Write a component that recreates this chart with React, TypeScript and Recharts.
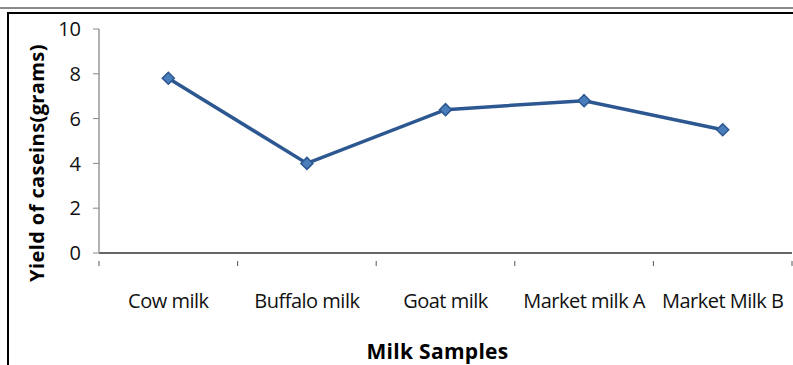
import { Label, Line, LineChart, XAxis, YAxis } from "recharts";

const samples = ["Cow milk", "Buffalo milk", "Goat milk", "Market milk A", "Market Milk B"];
const caseinYield = [7.8, 4.0, 6.4, 6.8, 5.5];
const yTicks = [0, 2, 4, 6, 8, 10];

const data = samples.map((name, i) => ({ name, value: caseinYield[i] }));

const FONT = "'Open Sans', Lato, sans-serif";
const CHART_W = 800;
const MARGIN_R = 8;
const AXIS_W = 99;
const BAND = (CHART_W - MARGIN_R - AXIS_W) / samples.length;

// Excel puts category ticks between the labels, so draw them here
function CategoryTick(props: any) {
  const { x, y, payload, index } = props;
  const left = x - BAND / 2;
  return (
    <g>
      <line x1={left} y1={y} x2={left} y2={y + 5} stroke="#555" />
      {index === samples.length - 1 && (
        <line x1={left + BAND} y1={y} x2={left + BAND} y2={y + 5} stroke="#555" />
      )}
      <text x={x} y={y + 47} textAnchor="middle" fontFamily={FONT} fontSize={20} letterSpacing={-0.5} fill="#111">
        {payload.value}
      </text>
    </g>
  );
}

function Diamond(props: any) {
  const { cx, cy } = props;
  if (cx == null || cy == null) return null;
  const r = 6;
  return (
    <polygon
      points={`${cx},${cy - r} ${cx + r},${cy} ${cx},${cy + r} ${cx - r},${cy}`}
      fill="#4a7ebb"
      stroke="#2c5791"
      strokeWidth={1.5}
    />
  );
}

function App() {
  return (
    <div
      style={{
        position: "fixed",
        left: 0,
        top: 0,
        width: 793,
        height: 365,
        overflow: "hidden",
        background: "#fff",
      }}
    >
      <div style={{ position: "absolute", left: 0, top: 7, width: 793, height: 2, background: "#8a8a8a" }} />
      <div
        style={{
          position: "absolute",
          left: 7,
          top: 12,
          width: 820,
          height: 400,
          borderLeft: "2px solid #000",
          borderTop: "2px solid #000",
        }}
      />
      <div style={{ position: "absolute", left: 0, top: 0 }}>
        <LineChart
          width={CHART_W}
          height={365}
          data={data}
          margin={{ top: 29, right: MARGIN_R, bottom: 52, left: 0 }}
        >
          <XAxis
            dataKey="name"
            scale="band"
            axisLine={{ stroke: "#333", strokeWidth: 1.5 }}
            tickLine={false}
            tick={<CategoryTick />}
            interval={0}
            height={60}
          >
            <Label
              content={(p: any) => (
                <text
                  x={p.viewBox.x + p.viewBox.width / 2 - 8}
                  y={359}
                  textAnchor="middle"
                  fontFamily={FONT}
                  fontWeight="bold"
                  fontSize={21}
                  letterSpacing={0.3}
                  fill="#000"
                >
                  Milk Samples
                </text>
              )}
            />
          </XAxis>
          <YAxis
            domain={[0, 10]}
            ticks={yTicks}
            width={AXIS_W}
            axisLine={{ stroke: "#999", strokeWidth: 1.5 }}
            tickLine={{ stroke: "#888" }}
            tickSize={6}
            tickMargin={12}
            tick={{ fontFamily: FONT, fontSize: 20, fill: "#111" }}
          >
            <Label
              content={(p: any) => {
                const cy = p.viewBox.y + p.viewBox.height / 2 + 22;
                return (
                  <text
                    x={44}
                    y={cy}
                    transform={`rotate(-90 44 ${cy})`}
                    textAnchor="middle"
                    fontFamily={FONT}
                    fontWeight="bold"
                    fontSize={20}
                    letterSpacing={0.4}
                    fill="#000"
                  >
                    Yield of caseins(grams)
                  </text>
                );
              }}
            />
          </YAxis>
          <Line
            type="linear"
            dataKey="value"
            stroke="#2c5791"
            strokeWidth={3.5}
            dot={<Diamond />}
            activeDot={false}
            isAnimationActive={false}
          />
        </LineChart>
      </div>
    </div>
  );
}

export default App;
